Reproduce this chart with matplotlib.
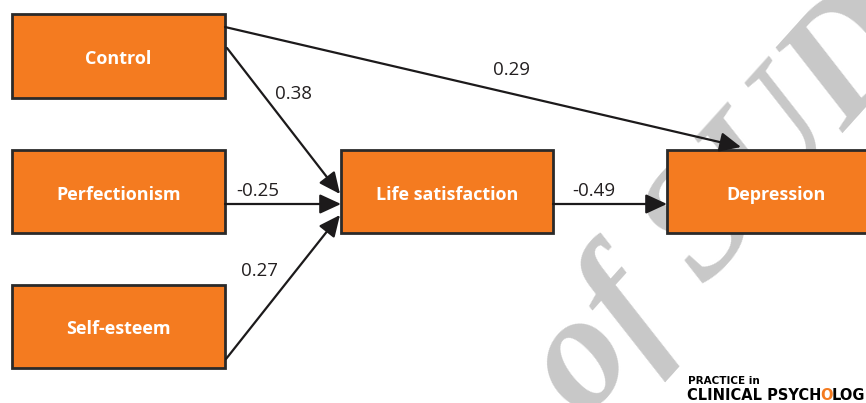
import matplotlib.pyplot as plt
from matplotlib.patches import Rectangle, FancyArrowPatch

# path model: nodes, edges and standardised coefficients
nodes = ["Control", "Perfectionism", "Self-esteem", "Life satisfaction", "Depression"]
edge_from = ["Control", "Control", "Perfectionism", "Self-esteem", "Life satisfaction"]
edge_to = ["Depression", "Life satisfaction", "Life satisfaction", "Life satisfaction", "Depression"]
coefs = ["0.29", "0.38", "-0.25", "0.27", "-0.49"]

# layout in pixel coordinates (x, y top, width, height)
box_pos = {
    "Control": (12, 14, 213, 84),
    "Perfectionism": (12, 150, 213, 83),
    "Self-esteem": (12, 285, 213, 83),
    "Life satisfaction": (341, 150, 212, 83),
    "Depression": (667, 150, 215, 83),
}
# arrow start / end points and label positions
arrow_pts = [((225, 27), (741, 147)),
             ((227, 48), (340, 194)),
             ((225, 204), (341, 204)),
             ((226, 359), (340, 215)),
             ((553, 204), (667, 204))]
label_pos = [(512, 70), (294, 94), (258, 191), (260, 271), (594, 191)]

orange = "#F47B20"
edge_col = "#2a2a2a"

fig = plt.figure(figsize=(8.66, 4.03), dpi=100)
ax = fig.add_axes([0, 0, 1, 1])
ax.set_xlim(0, 866)
ax.set_ylim(403, 0)
ax.axis("off")

# grey watermark behind everything
ax.text(585, 420, "of SUD", rotation=48, rotation_mode="anchor", ha="left", va="baseline",
        fontsize=118, family="Liberation Serif", style="italic", fontweight="bold",
        color="#c8c8c8", zorder=0)

for name in nodes:
    x, y, w, h = box_pos[name]
    ax.add_patch(Rectangle((x, y), w, h, facecolor=orange, edgecolor=edge_col, lw=2, zorder=2))
    ax.text(x + w / 2 if name != "Depression" else 776, y + h / 2 + 3, name, color="white",
            fontsize=13, fontweight="bold", family="Open Sans", ha="center", va="center", zorder=3)

for (p0, p1), c, lp in zip(arrow_pts, coefs, label_pos):
    arr = FancyArrowPatch(p0, p1, arrowstyle="-|>,head_length=13,head_width=6",
                          shrinkA=0, shrinkB=0, color="#1c1a1b", lw=1.6, zorder=4)
    ax.add_patch(arr)
    ax.text(lp[0], lp[1], c, fontsize=13.5, family="Open Sans", color="#231f20",
            ha="center", va="center", zorder=5)

# publisher logo, bottom right
ax.text(688, 381, "PRACTICE in", fontsize=7.5, fontweight="bold", family="DejaVu Sans",
        color="black", ha="left", va="center", zorder=5)
ax.text(687, 396, "CLINICAL PSYCH", fontsize=10.5, fontweight="bold", family="DejaVu Sans",
        color="black", ha="left", va="center", zorder=5)
ax.text(820, 396, "O", fontsize=10.5, fontweight="bold", family="DejaVu Sans",
        color=orange, ha="left", va="center", zorder=5)
ax.text(832, 396, "LOG", fontsize=10.5, fontweight="bold", family="DejaVu Sans",
        color="black", ha="left", va="center", zorder=5)

fig.savefig("out.png", dpi=100)
